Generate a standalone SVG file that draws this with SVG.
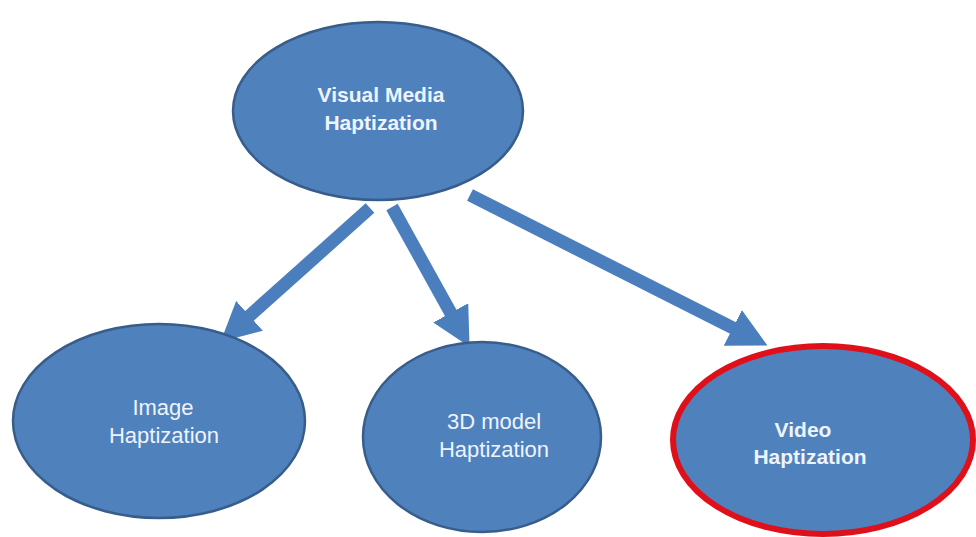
<svg xmlns="http://www.w3.org/2000/svg" width="976" height="537" viewBox="0 0 976 537">
<defs>
<style>
.node{fill:#4f81bd;stroke:#385d8a;stroke-width:2.5}
.hl{fill:#4f81bd;stroke:#e0101a;stroke-width:6}
.t{font-family:"Liberation Sans",Arial,sans-serif;font-size:22px;fill:#eef4ff;text-anchor:middle}
.b{font-weight:bold;font-size:21px}
.c{stroke:#4a7ebd;stroke-width:13;fill:none;marker-end:url(#ah)}
</style>
<marker id="ah" markerUnits="userSpaceOnUse" markerWidth="40" markerHeight="40" viewBox="0 0 34 34" refX="4" refY="17" orient="auto">
<path d="M0,0 L33,17 L0,34 z" fill="#4a7ebd"/>
</marker>
</defs>
<rect width="976" height="537" fill="#ffffff"/>
<g id="connectors">
<line class="c" x1="370" y1="208" x2="246" y2="319"/>
<line class="c" x1="392" y1="207" x2="453" y2="317"/>
<line class="c" x1="470" y1="195" x2="737" y2="330"/>
</g>
<g id="visual-media">
<ellipse class="node" cx="378" cy="111" rx="145" ry="89"/>
<text class="t b" x="381" y="102">Visual Media</text>
<text class="t b" x="381" y="130">Haptization</text>
</g>
<g id="image">
<ellipse class="node" cx="159" cy="421" rx="146" ry="97"/>
<text class="t" x="163" y="415">Image</text>
<text class="t" x="164" y="443">Haptization</text>
</g>
<g id="model3d">
<ellipse class="node" cx="482" cy="437" rx="119" ry="95"/>
<text class="t" x="494" y="429">3D model</text>
<text class="t" x="494" y="457">Haptization</text>
</g>
<g id="video">
<ellipse class="hl" cx="823" cy="440" rx="150" ry="94"/>
<text class="t b" x="803" y="437">Video</text>
<text class="t b" x="810" y="464">Haptization</text>
</g>
</svg>
